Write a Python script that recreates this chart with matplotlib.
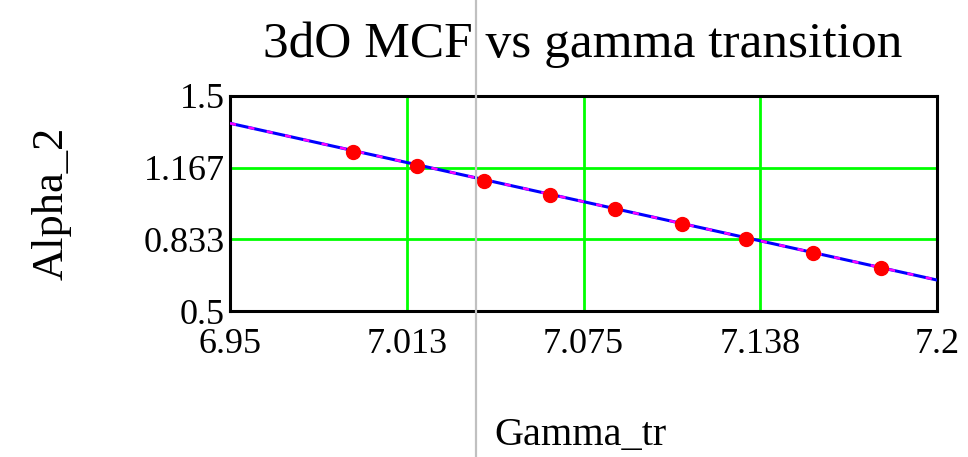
import matplotlib
matplotlib.use("Agg")
import matplotlib.pyplot as plt
from matplotlib.lines import Line2D

plt.rcParams['font.family'] = ['Liberation Serif', 'DejaVu Serif']

# measured points
gamma_tr = [6.9935, 7.0161, 7.0397, 7.0633, 7.0862, 7.1099, 7.1325, 7.1563, 7.1801]
alpha_2 = [1.241, 1.174, 1.106, 1.038, 0.973, 0.903, 0.835, 0.768, 0.698]

# linear fit evaluated at the plot edges
fit_x = [6.95, 7.2]
fit_y = [1.373, 0.644]

x_ticks = [6.95, 7.0125, 7.075, 7.1375, 7.2]
x_labels = ["6.95", "7.013", "7.075", "7.138", "7.2"]
y_ticks = [0.5, 0.8333, 1.1667, 1.5]
y_labels = ["0.5", "0.833", "1.167", "1.5"]

W, H = 968, 457
fig = plt.figure(figsize=(W / 100, H / 100), dpi=100)
ax = fig.add_axes([230 / W, 1 - 311 / H, 707 / W, 215 / H])

ax.set_xlim(x_ticks[0], x_ticks[-1])
ax.set_ylim(y_ticks[0], y_ticks[-1])

# green grid on inner ticks only
for xv in x_ticks[1:-1]:
    ax.axvline(xv, color='#00ff00', lw=2, zorder=1)
for yv in y_ticks[1:-1]:
    ax.axhline(yv, color='#00ff00', lw=2, zorder=1)

ax.plot(fit_x, fit_y, color='#0000ff', lw=2.2, zorder=3)
ax.plot(fit_x, fit_y, color='#ff00ff', lw=1.8, dashes=(2.5, 5), zorder=4)
ax.plot(gamma_tr, alpha_2, 'o', color='#ff0000', ms=10, mec='#ff0000', zorder=5)

ax.set_xticks(x_ticks)
ax.set_xticklabels(x_labels)
ax.set_yticks(y_ticks)
ax.set_yticklabels(y_labels)
ax.tick_params(axis='both', length=0, labelsize=26)
ax.tick_params(axis='x', pad=12)
ax.tick_params(axis='y', pad=4)
for s in ax.spines.values():
    s.set_linewidth(2.2)
    s.set_color('black')

fig.text(583 / W, 1 - 45 / H, "3dO MCF vs gamma transition",
         ha='center', va='center', fontsize=37)
fig.text(52 / W, 1 - 203 / H, "Alpha_2", rotation=90,
         ha='center', va='center', fontsize=32)
fig.text(580 / W, 1 - 436 / H, "Gamma_tr",
         ha='center', va='center', fontsize=29)

# grey vertical divider across the whole figure
fig.add_artist(Line2D([476 / W, 476 / W], [0, 1], transform=fig.transFigure,
                      color='#c0c0c0', lw=1.6, zorder=10))

fig.savefig("out.png", dpi=100)
